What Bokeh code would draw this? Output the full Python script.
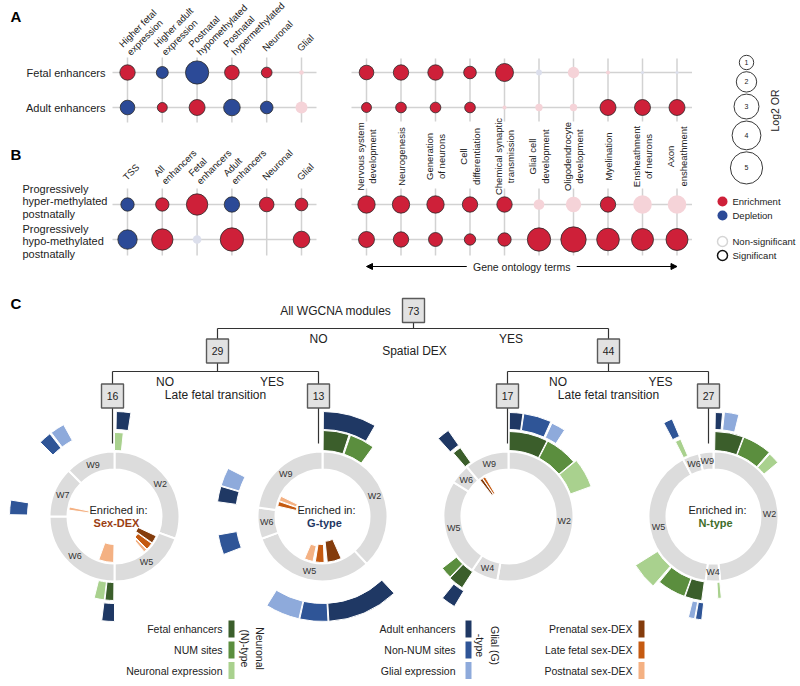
import math
import numpy as np
from bokeh.plotting import figure
from bokeh.models import Range1d, Arrow, NormalHead
from bokeh.core.properties import value
from bokeh.embed import file_html
from bokeh.resources import INLINE

FONT = "Liberation Sans"

# ---------------- Panel A / B data ----------------
a_rows = ["Fetal enhancers", "Adult enhancers"]
a_left_cols = ["Higher fetal\nexpression", "Higher adult\nexpression", "Postnatal\nhypomethylated",
               "Postnatal\nhypermethylated", "Neuronal", "Glial"]
a_left_or = [[1.14, 0.69, 2.6, 1.03, 0.55, 0.10],
             [1.03, 0.48, 1.23, 1.33, 0.77, 0.69]]
a_left_dir = [["E", "D", "D", "E", "E", "E"],
              ["D", "E", "E", "D", "D", "E"]]
a_left_sig = [[1, 1, 1, 1, 1, 0],
              [1, 1, 1, 1, 1, 0]]

go_terms = ["Nervous system\ndevelopment", "Neurogenesis", "Generation\nof neurons", "Cell\ndifferentiation",
            "Chemical synaptic\ntransmission", "Glial cell\ndevelopment", "Oligodendrocyte\ndevelopment",
            "Myelination", "Ensheathment\nof neurons", "Axon\nensheathment"]
a_go_or = [[1.03, 1.14, 1.14, 0.77, 1.56, 0.17, 0.62, 0.08, 0.05, 0.05],
           [0.48, 0.55, 0.55, 0.55, 0.08, 0.26, 0.26, 1.23, 1.23, 1.23]]
a_go_dir = [["E", "E", "E", "E", "E", "D", "E", "E", "D", "D"],
            ["E"] * 10]
a_go_sig = [[1, 1, 1, 1, 1, 0, 0, 0, 0, 0],
            [1, 1, 1, 1, 0, 0, 0, 1, 1, 1]]

b_rows = ["Progressively\nhyper-methylated\npostnatally", "Progressively\nhypo-methylated\npostnatally"]
b_left_cols = ["TSS", "All\nenhancers", "Fetal\nenhancers", "Adult\nenhancers", "Neuronal", "Glial"]
b_left_or = [[0.86, 0.86, 2.2, 1.14, 1.03, 0.77],
             [1.81, 2.2, 0.36, 2.62, None, 1.33]]
b_left_dir = [["D", "E", "E", "D", "E", "E"],
              ["D", "E", "D", "E", "E", "E"]]
b_left_sig = [[1, 1, 1, 1, 1, 1],
              [1, 1, 0, 1, 1, 1]]
b_go_or = [[1.45, 1.45, 1.45, 1.14, 1.14, 0.55, 1.14, 1.14, 1.67, 1.67],
           [1.23, 1.14, 0.94, 0.62, 0.86, 2.62, 3.1, 2.47, 2.33, 2.33]]
b_go_dir = [["E"] * 10, ["E"] * 10]
b_go_sig = [[1, 1, 1, 1, 1, 0, 0, 1, 0, 0],
            [1] * 10]

size_legend_vals = [1, 2, 3, 4, 5]

# ---------------- Panel C data ----------------
tree_counts = [73, 29, 44, 16, 13, 17, 27]
c_enriched = ["Sex-DEX", "G-type", None, "N-type"]
c_windows = [
    [("W2", 0, 110), ("W5", 110, 180), ("W6", 180, 270), ("W7", 270, 315), ("W9", 315, 360)],
    [("W2", 0, 137), ("W5", 137, 250), ("W6", 250, 278), ("W9", 278, 360)],
    [("W2", 0, 190), ("W4", 190, 214), ("W5", 214, 302), ("W6", 302, 320), ("W9", 320, 360)],
    [("W2", 0, 174), ("W4", 174, 187), ("W5", 187, 332), ("W6", 332, 347), ("W9", 347, 360)],
]
# (category, start angle, end angle [deg clockwise from top], bar length)
c_bars = [
    [("Neuronal expression", 0, 6, 18), ("Adult enhancers", 1, 9, 18),
     ("Non-NUM sites", 315, 322, 18), ("Glial expression", 323, 331, 18),
     ("Non-NUM sites", 271, 279, 18), ("Neuronal expression", 187, 194, 18),
     ("Fetal enhancers", 180.5, 186.5, 18), ("Adult enhancers", 180, 187, 18),
     ("Postnatal sex-DEX", 278, 282, 20), ("Prenatal sex-DEX", 115, 125, 20),
     ("Late fetal sex-DEX", 126, 135, 17), ("Postnatal sex-DEX", 136, 140, 14),
     ("Postnatal sex-DEX", 181, 200, 18)],
    [("Fetal enhancers", 0.5, 18, 20), ("NUM sites", 19, 36, 20), ("Adult enhancers", 0.5, 30, 18),
     ("Glial expression", 287, 297, 19), ("Adult enhancers", 278, 286.5, 19),
     ("Non-NUM sites", 249, 260, 19), ("Glial expression", 193, 212, 18),
     ("Non-NUM sites", 177, 192.5, 18), ("Adult enhancers", 137, 176.5, 18),
     ("Postnatal sex-DEX", 290, 296, 18), ("Late fetal sex-DEX", 283, 289, 19),
     ("Postnatal sex-DEX", 192, 203, 16), ("Late fetal sex-DEX", 178, 189, 18),
     ("Prenatal sex-DEX", 156, 174, 21)],
    [("Fetal enhancers", 0.5, 27, 19), ("NUM sites", 27.5, 50, 19), ("Neuronal expression", 50.5, 70, 22),
     ("Adult enhancers", 0.5, 8, 17), ("Non-NUM sites", 8.5, 24, 17), ("Glial expression", 25, 33, 16),
     ("Fetal enhancers", 319, 325, 18), ("Adult enhancers", 318, 325, 18),
     ("NUM sites", 224, 232, 18), ("Fetal enhancers", 213, 223.5, 19), ("Adult enhancers", 211, 219, 18),
     ("Prenatal sex-DEX", 322, 325.5, 19), ("Late fetal sex-DEX", 326, 329.5, 19)],
    [("Fetal enhancers", 1, 20.5, 19), ("NUM sites", 21, 41, 19), ("Neuronal expression", 42, 50, 18),
     ("Adult enhancers", 1, 5, 17), ("Glial expression", 6, 14, 18),
     ("Non-NUM sites", 332, 337, 19), ("Neuronal expression", 333, 337, 18),
     ("Neuronal expression", 221, 238, 26), ("NUM sites", 200, 219.5, 19),
     ("Fetal enhancers", 188, 199.5, 19), ("Glial expression", 190.5, 194, 17),
     ("Non-NUM sites", 186.5, 190, 17), ("Neuronal expression", 174.5, 177, 16)],
]

leg_neuronal = ["Fetal enhancers", "NUM sites", "Neuronal expression"]
leg_glial = ["Adult enhancers", "Non-NUM sites", "Glial expression"]
leg_sex = ["Prenatal sex-DEX", "Late fetal sex-DEX", "Postnatal sex-DEX"]

cat_colors = {
    "Fetal enhancers": "#3B5E2B", "NUM sites": "#5B8E3E", "Neuronal expression": "#A9D18E",
    "Adult enhancers": "#1F3864", "Non-NUM sites": "#2F5597", "Glial expression": "#8EAADB",
    "Prenatal sex-DEX": "#843C0C", "Late fetal sex-DEX": "#C55A11", "Postnatal sex-DEX": "#F4B183",
}
cat_band = {c: "N" for c in leg_neuronal}
cat_band.update({c: "G" for c in leg_glial})
cat_band.update({c: "S" for c in leg_sex})

# ---------------- figure ----------------
W, H = 800, 686
p = figure(width=W, height=H, x_range=Range1d(0, W), y_range=Range1d(H, 0),
           output_backend="svg", toolbar_location=None, min_border=0,
           x_axis_type=None, y_axis_type=None)
p.grid.visible = False
p.outline_line_color = None
p.background_fill_color = "white"

F = value(FONT)
RED, BLUE = "#CE2039", "#2C4A97"
RED_NS, BLUE_NS = "#F5D3D8", "#DCDFEC"
GRID = "#D2D2D2"


def txt(x, y, t, size, align="left", base="middle", angle=0.0, bold=False, color="#222222", lh=1.15):
    p.text(x=x, y=y, text=t, text_font=F, text_font_size=f"{size}px", text_align=align,
           text_baseline=base, angle=angle, text_color=color,
           text_font_style="bold" if bold else "normal", text_line_height=lh)


def dot_color(d, s):
    if s:
        return RED if d == "E" else BLUE
    return RED_NS if d == "E" else BLUE_NS


def draw_dots(xs, ys, ors, dirs, sigs):
    X, Y, S, C, L = [], [], [], [], []
    for i, y in enumerate(ys):
        for j, x in enumerate(xs):
            v = ors[i][j]
            if v is None:
                continue
            X.append(x); Y.append(y)
            S.append(2 * 7.2 * math.sqrt(v))
            C.append(dot_color(dirs[i][j], sigs[i][j]))
            L.append("#2a2a2a" if sigs[i][j] else None)
    p.scatter(x=X, y=Y, size=S, fill_color=C, line_color=L, line_width=0.8)


def draw_grid(xs, ys, pad_x=15, pad_y=15):
    p.segment(x0=[xs[0] - pad_x] * len(ys), x1=[xs[-1] + pad_x] * len(ys), y0=ys, y1=ys,
              line_color=GRID, line_width=1.5)
    p.segment(x0=xs, x1=xs, y0=[ys[0] - pad_y] * len(xs), y1=[ys[-1] + pad_y] * len(xs),
              line_color=GRID, line_width=1.5)


left_x = [127 + 34.8 * i for i in range(len(a_left_cols))]
go_x = [366 + 34.5 * i for i in range(len(go_terms))]
rows_a = [72, 107]
rows_b = [204, 239]

# panel letters
txt([10], [16], ["A"], 15, bold=True, color="black")
txt([10], [154], ["B"], 15, bold=True, color="black")
txt([10], [303], ["C"], 15, bold=True, color="black")

# grids
draw_grid(left_x, rows_a)
draw_grid(go_x, rows_a, pad_y=14)
draw_grid(left_x, rows_b, pad_y=16)
draw_grid(go_x, rows_b, pad_y=16)

# dots
draw_dots(left_x, rows_a, a_left_or, a_left_dir, a_left_sig)
draw_dots(go_x, rows_a, a_go_or, a_go_dir, a_go_sig)
draw_dots(left_x, rows_b, b_left_or, b_left_dir, b_left_sig)
draw_dots(go_x, rows_b, b_go_or, b_go_dir, b_go_sig)

# row labels
txt([105] * 2, rows_a, a_rows, 11, align="right")
txt([22] * 2, [rows_b[0] - 3, rows_b[1] + 2], b_rows, 11, lh=1.05)

# column labels
txt([x - 3 for x in left_x], [49] * 6, a_left_cols, 9.5, angle=math.pi / 4, lh=1.05)
txt([x - 3 for x in left_x], [178] * 6, b_left_cols, 9.5, angle=math.pi / 4, lh=1.05)
txt(go_x, [156] * len(go_x), go_terms, 9.5, align="center", angle=math.pi / 2, lh=1.1)

# gene ontology arrow
mid_go = (go_x[0] + go_x[-1]) / 2
txt([mid_go], [266], ["Gene ontology terms"], 10.5, align="center")
p.add_layout(Arrow(end=NormalHead(size=6, fill_color="black", line_color="black"),
                   x_start=mid_go - 55, y_start=266, x_end=go_x[0], y_end=266, line_width=1.1))
p.add_layout(Arrow(end=NormalHead(size=6, fill_color="black", line_color="black"),
                   x_start=mid_go + 55, y_start=266, x_end=go_x[-1], y_end=266, line_width=1.1))

# size legend
rad = [7.2 * math.sqrt(v) for v in size_legend_vals]
ys = [62]
for i in range(1, len(rad)):
    ys.append(ys[-1] + rad[i - 1] + rad[i] + 2)
p.scatter(x=[746] * 5, y=ys, size=[2 * r for r in rad], fill_color=None, line_color="#222", line_width=0.9)
txt([746] * 5, ys, [str(v) for v in size_legend_vals], 7, align="center")
txt([774], [110], ["Log2 OR"], 10.5, align="center", angle=math.pi / 2)

# colour / significance legend
p.scatter(x=[722, 722], y=[201, 215], size=10, fill_color=[RED, BLUE], line_color=None)
p.scatter(x=[722, 722], y=[241, 255], size=10, fill_color=None, line_color=["#D5D5D5", "#111"], line_width=1.5)
txt([732] * 4, [201, 215, 241, 255], ["Enrichment", "Depletion", "Non-significant", "Significant"], 9.5)

# ---------------- Panel C: tree ----------------
node_x = [413, 217, 608, 112, 318, 507, 708]
node_y = [310, 350.5, 350.5, 395.5, 395.5, 395.5, 395.5]
BH = 24
lc = "#333333"
segs = []
segs.append((node_x[0], node_y[0] + BH / 2, node_x[0], 328))
segs.append((node_x[1], 328, node_x[2], 328))
for k in (1, 2):
    segs.append((node_x[k], 328, node_x[k], node_y[k] - BH / 2))
    segs.append((node_x[k], node_y[k] + BH / 2, node_x[k], 371))
segs.append((node_x[3], 371, node_x[4], 371))
segs.append((node_x[5], 371, node_x[6], 371))
for k in (3, 4, 5, 6):
    segs.append((node_x[k], 371, node_x[k], node_y[k] - BH / 2))
    segs.append((node_x[k], node_y[k] + BH / 2, node_x[k], 443))
p.segment(x0=[s[0] for s in segs], y0=[s[1] for s in segs], x1=[s[2] for s in segs], y1=[s[3] for s in segs],
          line_color=lc, line_width=1.2)
p.rect(x=node_x, y=node_y, width=22, height=BH, fill_color="#E2E2E2", line_color="#5a5a5a", line_width=1.4)
txt(node_x, node_y, [str(c) for c in tree_counts], 10.5, align="center")
txt([391], [310], ["All WGCNA modules"], 12, align="right")
txt([(node_x[0] + node_x[1]) / 2 + 3, (node_x[0] + node_x[2]) / 2], [338, 338], ["NO", "YES"], 12, align="center")
txt([node_x[0] + 1], [350], ["Spatial DEX"], 12, align="center")
txt([(node_x[1] + node_x[3]) / 2, (node_x[1] + node_x[4]) / 2 + 4,
     (node_x[2] + node_x[5]) / 2, (node_x[2] + node_x[6]) / 2 + 2], [381] * 4, ["NO", "YES", "NO", "YES"], 12,
    align="center")
txt([node_x[1] - 2, node_x[2]], [394, 394], ["Late fetal transition"] * 2, 12, align="center")

# ---------------- Panel C: circles ----------------
centers = [(114, 516), (322, 516), (508, 516), (713, 516)]
R_IN, R_OUT = 47, 65
BAND0 = {"N": 66, "G": 87}
type_col = {"Sex-DEX": "#9A3E12", "G-type": "#1F3864", "N-type": "#3F6E2A"}

for (cx, cy), wins, bars, enr in zip(centers, c_windows, c_bars, c_enriched):
    p.annular_wedge(x=[cx] * len(wins), y=[cy] * len(wins), inner_radius=R_IN, outer_radius=R_OUT,
                    start_angle=[90 - w[2] for w in wins], end_angle=[90 - w[1] for w in wins],
                    start_angle_units="deg", end_angle_units="deg", direction="anticlock",
                    fill_color="#DCDCDC", line_color="white", line_width=2)
    rm = (R_IN + R_OUT) / 2
    lx = [cx + rm * math.sin(math.radians((w[1] + w[2]) / 2)) for w in wins]
    ly = [cy - rm * math.cos(math.radians((w[1] + w[2]) / 2)) for w in wins]
    txt(lx, ly, [w[0] for w in wins], 9, align="center", color="#333")
    ri, ro, sa, ea, fc = [], [], [], [], []
    for cat, a0, a1, ln in bars:
        band = cat_band[cat]
        if band == "S":
            ri.append(R_IN - 1 - ln); ro.append(R_IN - 1)
        else:
            ri.append(BAND0[band]); ro.append(BAND0[band] + ln)
        sa.append(90 - a1); ea.append(90 - a0)
        fc.append(cat_colors[cat])
    p.annular_wedge(x=[cx] * len(bars), y=[cy] * len(bars), inner_radius=ri, outer_radius=ro,
                    start_angle=sa, end_angle=ea, start_angle_units="deg", end_angle_units="deg",
                    direction="anticlock", fill_color=fc, line_color="white", line_width=1)
    if enr:
        txt([cx + 4], [cy - 7], ["Enriched in:"], 11, align="center")
        txt([cx + 2], [cy + 6], [enr], 11, align="center", bold=True, color=type_col[enr])

# ---------------- Panel C: legend ----------------
leg_rows = [628.5, 649.5, 670]
for cats, tx, sx in ((leg_neuronal, 222, 231), (leg_glial, 455, 468), (leg_sex, 632, 641)):
    txt([tx] * 3, leg_rows, cats, 10.5, align="right")
    p.rect(x=[sx] * 3, y=leg_rows, width=6, height=17, fill_color=[cat_colors[c] for c in cats], line_color=None)
txt([252], [648], ["Neuronal\n(N)-type"], 10.5, align="center", angle=-math.pi / 2, lh=1.2)
txt([487], [645], ["Glial (G)\n-type"], 10.5, align="center", angle=-math.pi / 2, lh=1.2)

open("out.html", "w").write(file_html(p, INLINE))
